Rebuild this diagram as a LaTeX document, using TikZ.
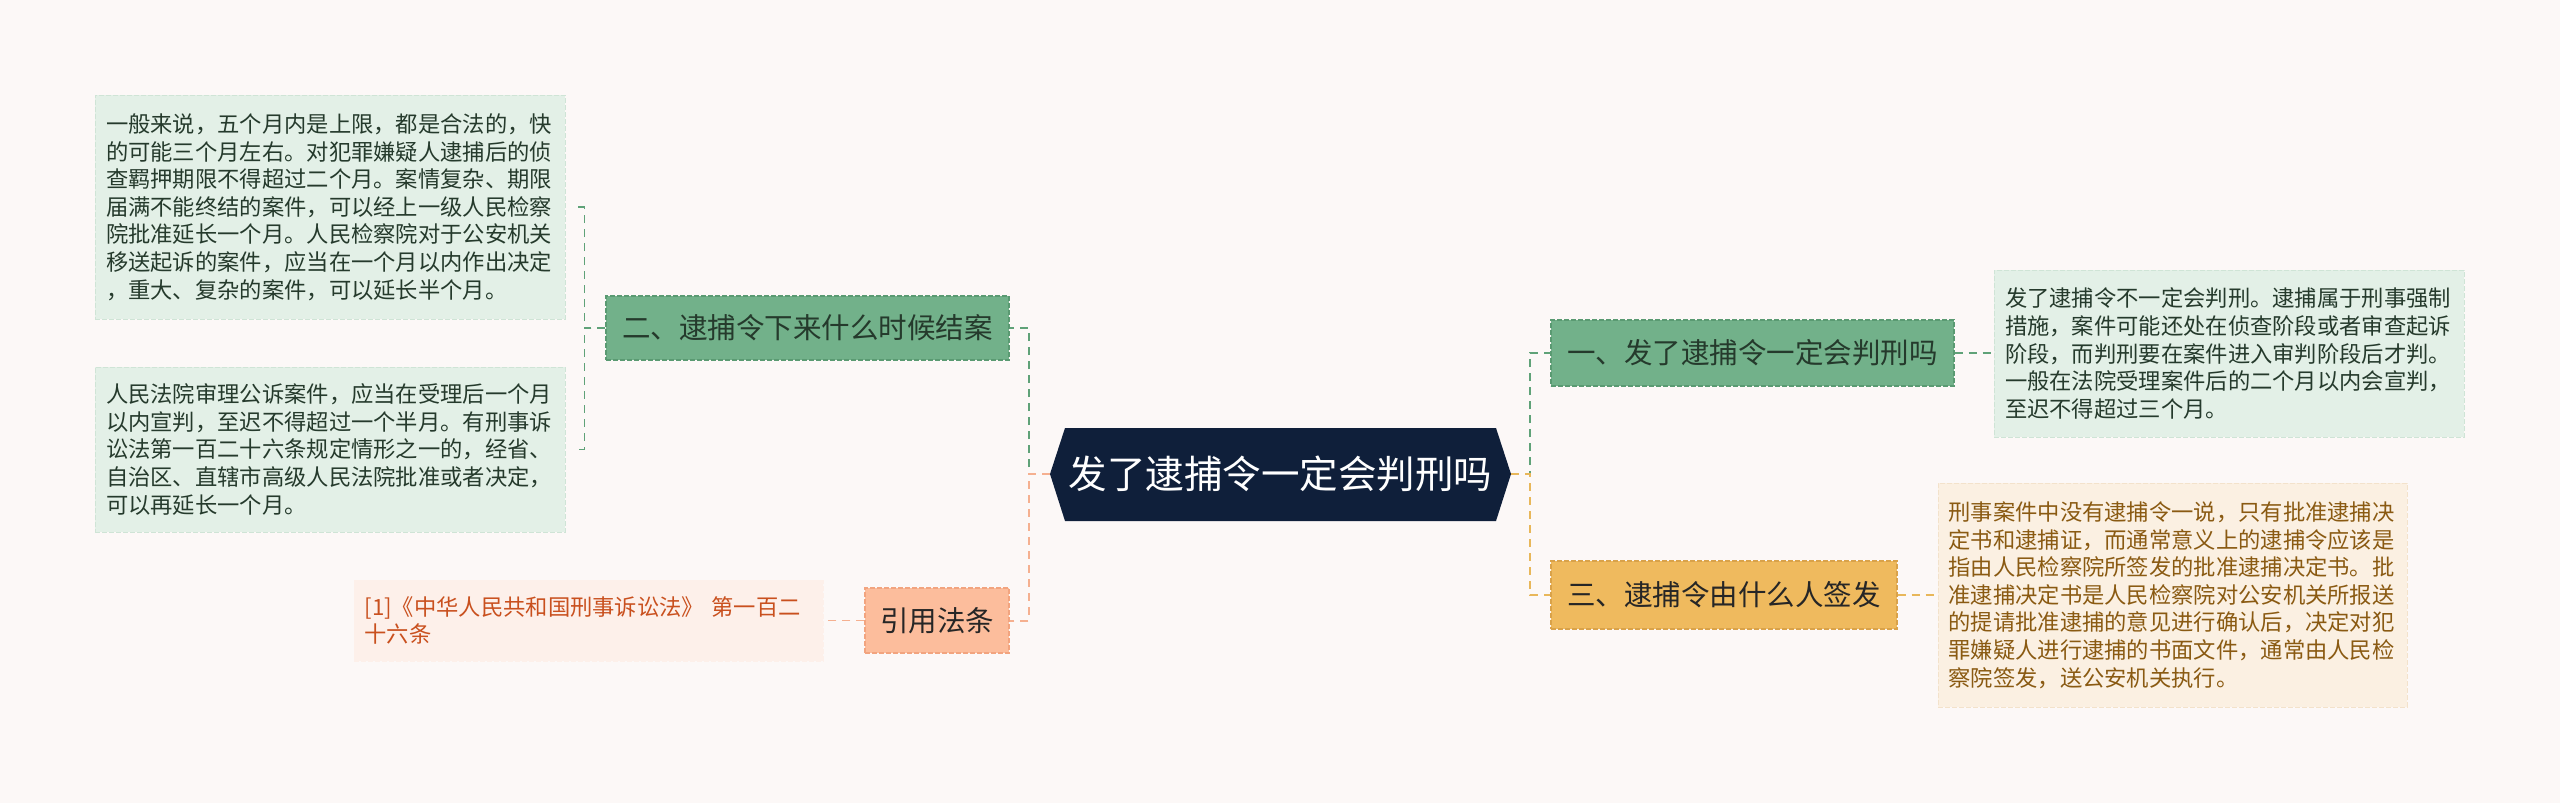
\documentclass[tikz,border=0pt]{standalone}
\usepackage{fontspec}
\setmainfont{Noto Sans CJK SC}
\usetikzlibrary{calc}
\definecolor{bgc}{HTML}{FCF8F7}
\definecolor{navy}{HTML}{0F1F3A}
\definecolor{gnode}{HTML}{72B18A}
\definecolor{gborder}{HTML}{5A9A72}
\definecolor{gleaf}{HTML}{E3F0E7}
\definecolor{gleafb}{HTML}{CFE4D6}
\definecolor{gtext}{HTML}{253A2C}
\definecolor{onode}{HTML}{EFBA5E}
\definecolor{oborder}{HTML}{D9A24A}
\definecolor{oleaf}{HTML}{FBF0E2}
\definecolor{oleafb}{HTML}{F3E2CB}
\definecolor{otext}{HTML}{8A5A12}
\definecolor{snode}{HTML}{FCBD9C}
\definecolor{sborder}{HTML}{F2A47F}
\definecolor{sleaf}{HTML}{FDF0EA}
\definecolor{stext}{HTML}{C9501E}
\definecolor{lg}{HTML}{5FA278}
\definecolor{lo}{HTML}{E8B75A}
\definecolor{ls}{HTML}{F5B090}
\begin{document}
\begin{tikzpicture}[x=1pt,y=-1pt,
  branch/.style={draw, dash pattern=on 5pt off 2pt, line width=1.2pt, inner sep=0pt,
    font=\fontsize{28.5}{34}\selectfont},
  gbranch/.style={branch, fill=gnode, draw=gborder, text=gtext},
  obranch/.style={branch, fill=onode, draw=oborder, text=black!85},
  sbranch/.style={branch, fill=snode, draw=sborder, text=black!85},
  leaf/.style={draw, dash pattern=on 5pt off 2pt, line width=1pt, inner sep=0pt,
    text width=448pt, align=left, font=\fontsize{22.3}{27.6}\selectfont},
  gleafs/.style={leaf, fill=gleaf, draw=gleafb, text=gtext},
  oleafs/.style={leaf, fill=oleaf, draw=oleafb, text=otext},
  sleafs/.style={leaf, fill=sleaf, draw=sleaf, text=stext},
  conn/.style={line width=2pt, dash pattern=on 8pt off 6pt},
  cg/.style={conn, draw=lg},
  co/.style={conn, draw=lo},
  cs/.style={conn, draw=ls}]
\useasboundingbox (0,0) rectangle (2560,803);
\fill[bgc] (0,0) rectangle (2560,803);

% central hexagon
\fill[navy] (1050,474) -- (1065,428) -- (1496,428) -- (1511,474) -- (1496,521) -- (1065,521) -- cycle;
\node[minimum width=461pt, minimum height=93pt, inner sep=0pt, text=white,
  font=\fontsize{38.5}{46}\selectfont] (c) at (1280.5,474) {发了逮捕令一定会判刑吗};

% branches
\node[gbranch, minimum width=403pt, minimum height=64pt] (n2) at (807.5,328) {二、逮捕令下来什么时候结案};
\node[sbranch, minimum width=144pt, minimum height=65pt] (ny) at (937,620.5) {引用法条};
\node[gbranch, minimum width=403pt, minimum height=66pt] (n1) at (1752.5,353) {一、发了逮捕令一定会判刑吗};
\node[obranch, minimum width=346pt, minimum height=68pt] (n3) at (1724,595) {三、逮捕令由什么人签发};

% leaves
\node[gleafs, minimum width=470pt, minimum height=224pt] (l1) at (330,207) {一般来说，五个月内是上限，都是合法的，快\\的可能三个月左右。对犯罪嫌疑人逮捕后的侦\\查羁押期限不得超过二个月。案情复杂、期限\\届满不能终结的案件，可以经上一级人民检察\\院批准延长一个月。人民检察院对于公安机关\\移送起诉的案件，应当在一个月以内作出决定\\，重大、复杂的案件，可以延长半个月。};
\node[gleafs, minimum width=470pt, minimum height=165pt] (l2) at (330,449.5) {人民法院审理公诉案件，应当在受理后一个月\\以内宣判，至迟不得超过一个半月。有刑事诉\\讼法第一百二十六条规定情形之一的，经省、\\自治区、直辖市高级人民法院批准或者决定，\\可以再延长一个月。};
\node[sleafs, minimum width=469pt, minimum height=81pt] (ly) at (588.5,620.5) {[1]《中华人民共和国刑事诉讼法》 第一百二\\十六条};
\node[gleafs, minimum width=470pt, minimum height=167pt] (r1) at (2229,353.5) {发了逮捕令不一定会判刑。逮捕属于刑事强制\\措施，案件可能还处在侦查阶段或者审查起诉\\阶段，而判刑要在案件进入审判阶段后才判。\\一般在法院受理案件后的二个月以内会宣判，\\至迟不得超过三个月。};
\node[oleafs, minimum width=469pt, minimum height=224pt] (r3) at (2172.5,595) {刑事案件中没有逮捕令一说，只有批准逮捕决\\定书和逮捕证，而通常意义上的逮捕令应该是\\指由人民检察院所签发的批准逮捕决定书。批\\准逮捕决定书是人民检察院对公安机关所报送\\的提请批准逮捕的意见进行确认后，决定对犯\\罪嫌疑人进行逮捕的书面文件，通常由人民检\\察院签发，送公安机关执行。};

% connectors
\draw[cg] (c.west) -- ++(-21,0) |- (n2.east);
\draw[cs] (c.west) -- ++(-21,0) |- (ny.east);
\draw[cg] (c.east) -- ++(19,0) |- (n1.west);
\draw[co] (c.east) -- ++(19,0) |- (n3.west);
\draw[cg, line width=1.5pt, shorten >=8pt] (n2.west) -- ++(-21,0) |- (l1.east);
\draw[cg, line width=1.5pt, shorten >=8pt] (n2.west) -- ++(-21,0) |- (l2.east);
\draw[cs, line width=1.5pt] (ny.west) -- (ly.east);
\draw[cg, line width=1.5pt] (n1.east) -- (n1.east -| r1.west);
\draw[co, line width=1.5pt] (n3.east) -- (n3.east -| r3.west);
\end{tikzpicture}
\end{document}
